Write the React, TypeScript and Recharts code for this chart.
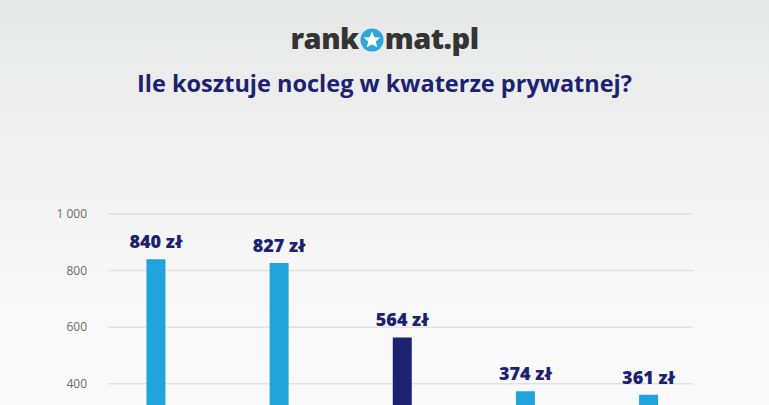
import React from 'react';
import { BarChart, Bar, XAxis, YAxis, CartesianGrid, Cell, LabelList } from 'recharts';

// positions of the five bars (the category labels sit below the visible crop)
const positions = [1, 2, 3, 4, 5];
const prices = [840, 827, 564, 374, 361];
const highlighted = [false, false, true, false, false];
const yTicks = [400, 600, 800, 1000];

const data = positions.map((x, i) => ({ x, price: prices[i], hi: highlighted[i] }));

const NAVY = '#1d2270';
const BLUE = '#21a3dc';
const FONT = '"Open Sans", Lato, sans-serif';

const fmtTick = (v: number) => (v >= 1000 ? `${Math.floor(v / 1000)} ${String(v % 1000).padStart(3, '0')}` : String(v));

function PriceLabel(props: any) {
  const { x, y, width, value } = props;
  return (
    <text
      x={x + width / 2}
      y={y - 11}
      textAnchor="middle"
      fill={NAVY}
      fontSize={18}
      fontWeight={800}
      fontFamily={FONT}
    >
      {`${value} zł`}
    </text>
  );
}

function Logo() {
  return (
    <div
      style={{
        position: 'absolute',
        top: 20,
        left: 0,
        width: 769,
        textAlign: 'center',
        fontFamily: FONT,
        fontWeight: 800,
        fontSize: 29,
        color: '#343434',
        letterSpacing: -0.5,
        lineHeight: '36px',
      }}
    >
      rank
      <svg width="24" height="24" viewBox="0 0 24 24" style={{ verticalAlign: '-3px', margin: '0 1px' }}>
        <circle cx="12" cy="12" r="11.5" fill="#2fa6de" />
        <polygon
          points="12,3.5 14.4,9.2 20.3,9.6 15.8,13.5 17.2,19.4 12,16.2 6.8,19.4 8.2,13.5 3.7,9.6 9.6,9.2"
          fill="#ffffff"
        />
      </svg>
      mat.pl
    </div>
  );
}

export default function App() {
  return (
    <div
      style={{
        position: 'fixed',
        top: 0,
        left: 0,
        width: 769,
        height: 405,
        overflow: 'hidden',
        background: 'linear-gradient(180deg, #e6e7e7 0%, #f1f1f1 40%, #f8f8f8 70%, #fafafa 100%)',
      }}
    >
      <Logo />
      <div
        style={{
          position: 'absolute',
          top: 67,
          left: 0,
          width: 769,
          textAlign: 'center',
          fontFamily: FONT,
          fontWeight: 700,
          fontSize: 23.5,
          color: NAVY,
          lineHeight: '32px',
        }}
      >
        Ile kosztuje nocleg w kwaterze prywatnej?
      </div>
      <div style={{ position: 'absolute', top: 0, left: 0 }}>
        <BarChart width={769} height={560} data={data} margin={{ top: 214, right: 76, bottom: 63, left: 0 }}>
          <CartesianGrid vertical={false} stroke="#e1e1e1" strokeWidth={1.5} />
          <XAxis dataKey="x" type="number" domain={[0.61, 5.36]} hide />
          <YAxis
            domain={[0, 1000]}
            ticks={yTicks}
            width={108}
            axisLine={false}
            tickLine={false}
            tickSize={0}
            tickMargin={21}
            tickFormatter={fmtTick}
            tick={{ fill: '#6b6b6b', fontSize: 12, fontFamily: FONT }}
          />
          <Bar dataKey="price" barSize={19} isAnimationActive={false}>
            {data.map((d, i) => (
              <Cell key={i} fill={d.hi ? NAVY : BLUE} />
            ))}
            <LabelList dataKey="price" content={PriceLabel} />
          </Bar>
        </BarChart>
      </div>
    </div>
  );
}
